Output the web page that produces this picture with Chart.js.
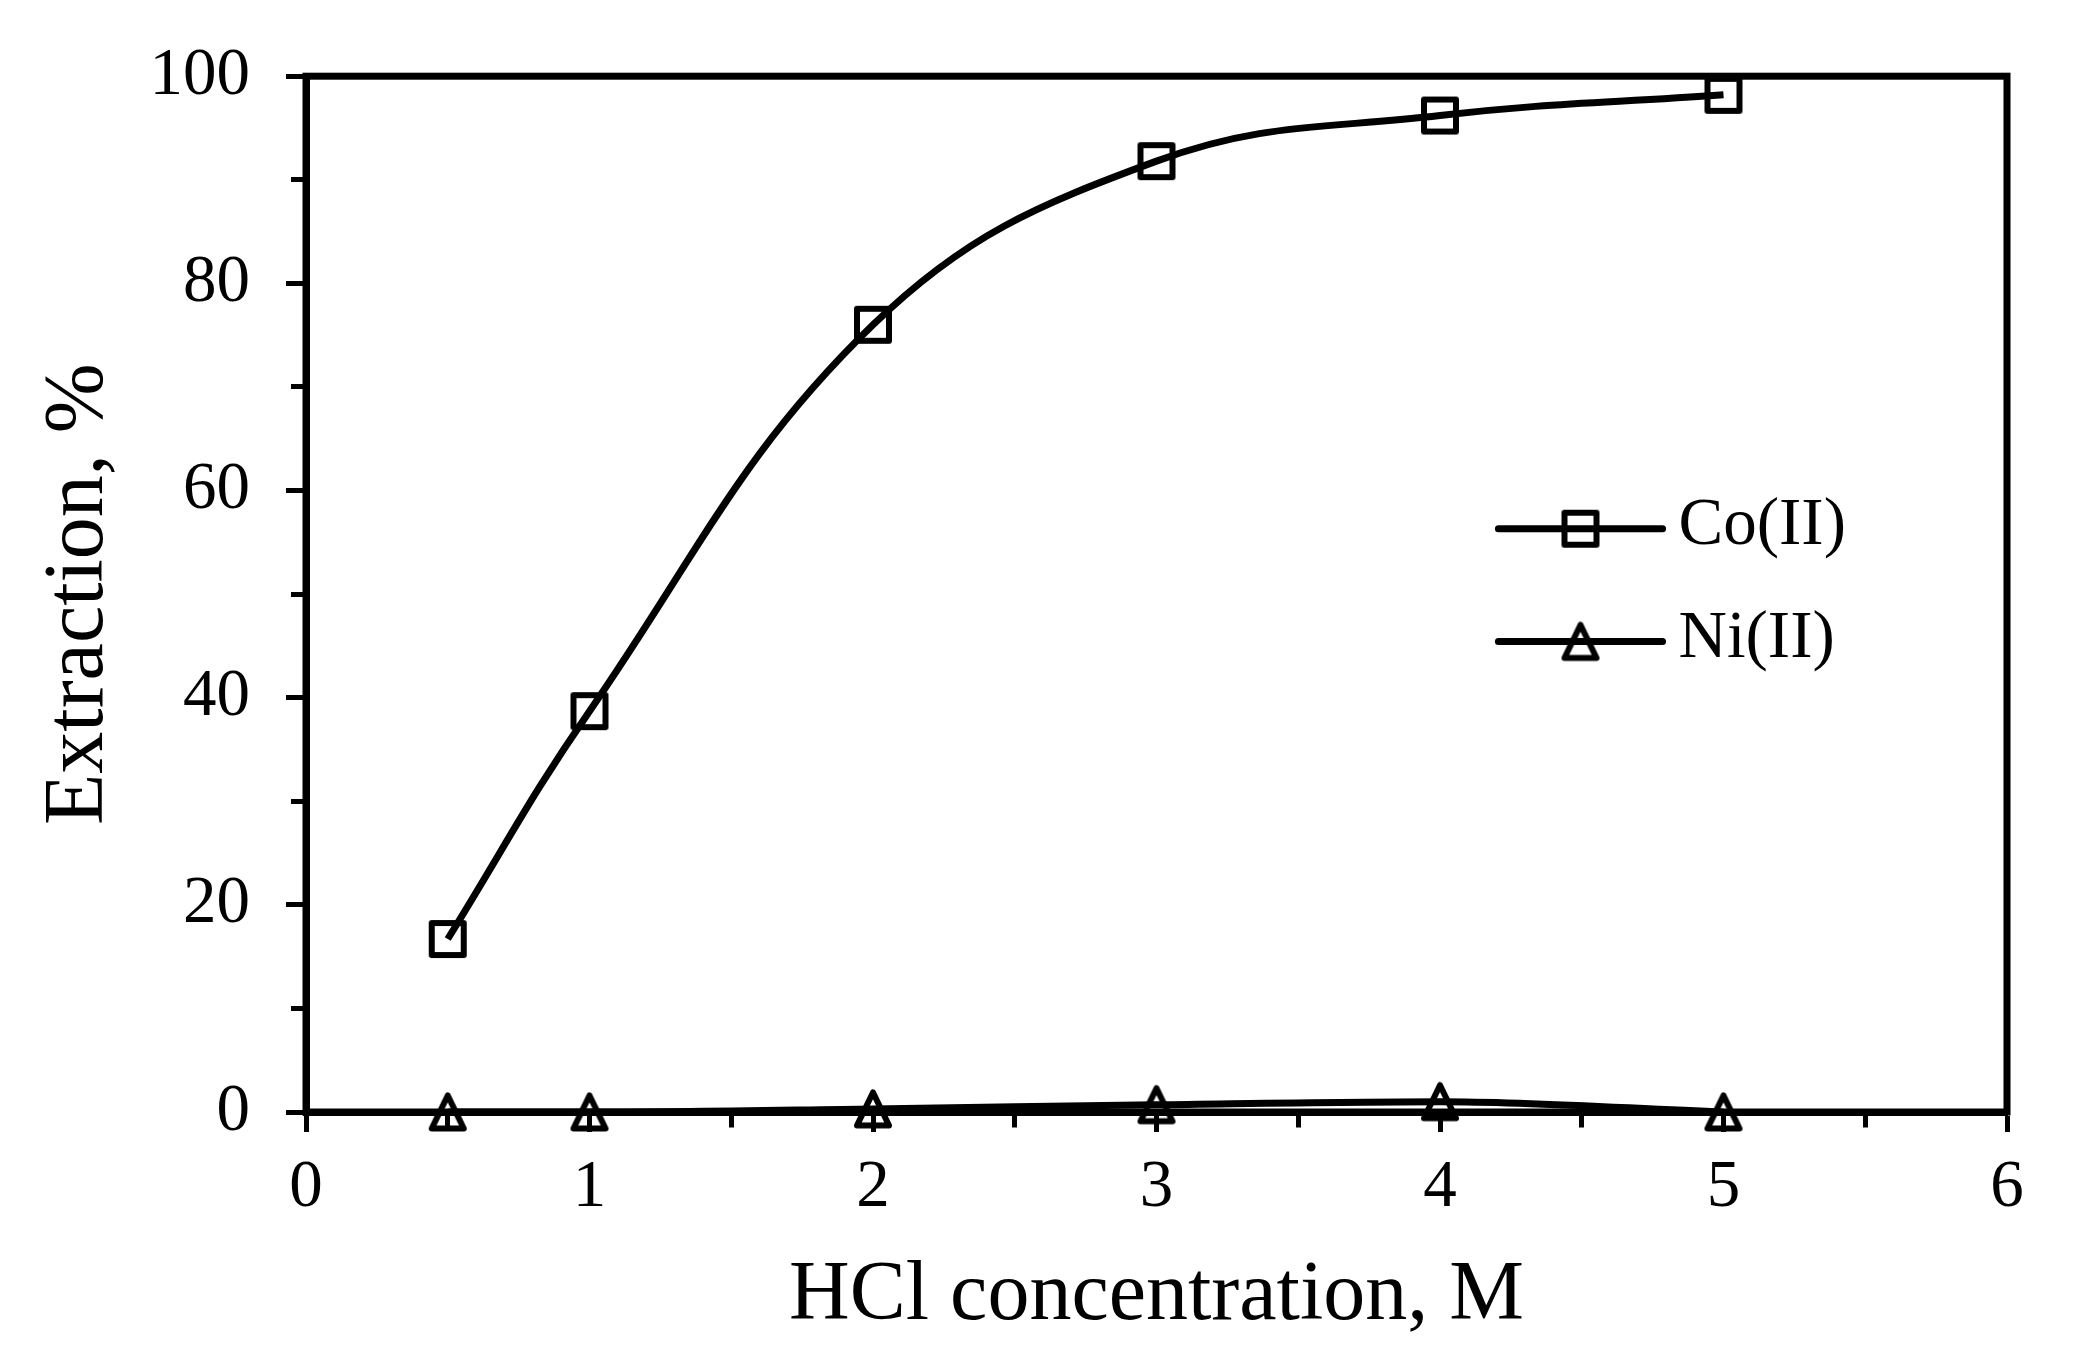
<!DOCTYPE html>
<html><head><meta charset="utf-8">
<script src="https://cdn.jsdelivr.net/npm/chart.js@4"></script>
<style>html,body{margin:0;padding:0;background:#fff}#wrap{width:2088px;height:1351px}</style>
</head><body><div id="wrap"><canvas id="c" width="2088" height="1351"></canvas></div>
<script>
const hclConc = [0.5, 1, 2, 3, 4, 5];
const coExtraction = [16.7, 38.7, 76.0, 91.8, 96.2, 98.2];
const niExtraction = [0, 0, 0.3, 0.7, 1.0, 0];
const xTickLabels = ['0', '1', '2', '3', '4', '5', '6'];
const yTickLabels = ['0', '20', '40', '60', '80', '100'];
const seriesNames = ['Co(II)', 'Ni(II)'];

const FONT = 'Liberation Serif';

function makeMarker(type) {
  const s = 46;
  const c = document.createElement('canvas');
  c.width = s; c.height = s;
  const g = c.getContext('2d');
  g.strokeStyle = '#000'; g.lineWidth = 6; g.lineJoin = 'round';
  if (type === 'square') {
    g.strokeRect(s / 2 - 16, s / 2 - 16, 32, 32);
  } else {
    g.beginPath();
    g.moveTo(s / 2, s / 2 - 16.5);
    g.lineTo(s / 2 + 16, s / 2 + 16.5);
    g.lineTo(s / 2 - 16, s / 2 + 16.5);
    g.closePath();
    g.stroke();
  }
  return c;
}
const squareMarker = makeMarker('square');
const triangleMarker = makeMarker('triangle');

const framePlugin = {
  id: 'frame',
  beforeDatasetsDraw(chart) {
    const a = chart.chartArea, ctx = chart.ctx;
    ctx.save();
    ctx.strokeStyle = '#000'; ctx.lineWidth = 7;
    ctx.strokeRect(a.left, a.top, a.right - a.left, a.bottom - a.top);
    ctx.restore();
  }
};

const legendPlugin = {
  id: 'innerLegend',
  afterDatasetsDraw(chart) {
    const a = chart.chartArea, ctx = chart.ctx;
    const w = a.right - a.left, h = a.bottom - a.top;
    const x0 = a.left + 0.701 * w, x1 = a.left + 0.7975 * w, xm = (x0 + x1) / 2;
    const ys = [a.top + 0.4369 * h, a.top + 0.5457 * h];
    ctx.save();
    chart.data.datasets.forEach((ds, i) => {
      const y = ys[i];
      ctx.strokeStyle = '#000'; ctx.lineWidth = 7; ctx.lineCap = 'round';
      ctx.beginPath(); ctx.moveTo(x0, y); ctx.lineTo(x1, y); ctx.stroke();
      const img = ds.pointStyle;
      ctx.drawImage(img, xm - img.width / 2, y - img.height / 2);
      ctx.fillStyle = '#000';
      ctx.font = '67px "' + FONT + '"';
      ctx.textBaseline = 'middle'; ctx.textAlign = 'left';
      ctx.fillText(ds.label, x1 + 16, y - 2);
    });
    ctx.restore();
  }
};

const isMinorX = v => !Number.isInteger(Math.round(v * 1000) / 1000);
const isMinorY = v => Math.round(v) % 20 !== 0;

new Chart(document.getElementById('c'), {
  type: 'line',
  data: {
    datasets: [
      {
        label: seriesNames[0],
        data: hclConc.map((x, i) => ({ x, y: coExtraction[i] })),
        borderColor: '#000', borderWidth: 7, tension: 0.4,
        pointStyle: squareMarker, pointRadius: 19, clip: false
      },
      {
        label: seriesNames[1],
        data: hclConc.map((x, i) => ({ x, y: niExtraction[i] })),
        borderColor: '#000', borderWidth: 7, tension: 0.4, cubicInterpolationMode: 'monotone',
        pointStyle: triangleMarker, pointRadius: 19, clip: false
      }
    ]
  },
  options: {
    responsive: false,
    animation: false,
    devicePixelRatio: 1,
    events: [],
    layout: { padding: { top: 73, right: 81, left: 0, bottom: 0 } },
    plugins: { legend: { display: false }, tooltip: { enabled: false } },
    scales: {
      x: {
        type: 'linear', min: 0, max: 6, position: 'bottom',
        afterFit(s) { s.height = 239; },
        ticks: {
          stepSize: 0.5, autoSkip: false, maxRotation: 0, padding: 16, color: '#000',
          font: { family: FONT, size: 67 },
          callback(v) { return isMinorX(v) ? '' : xTickLabels[Math.round(v)]; }
        },
        grid: {
          drawOnChartArea: false, drawTicks: true, tickLength: 20, tickWidth: 5, tickColor: '#000',
          tickBorderDash(ctx) { return ctx.tick && isMinorX(ctx.tick.value) ? [11.5, 100] : []; }
        },
        border: { display: true, color: '#000', width: 7 },
        title: {
          display: true, text: 'HCl concentration, M', color: '#000',
          font: { family: FONT, size: 84 }, padding: { top: 0, bottom: 4 }
        }
      },
      y: {
        type: 'linear', min: 0, max: 100, position: 'left',
        afterFit(s) { s.width = 306; },
        ticks: {
          stepSize: 10, autoSkip: false, padding: 36, color: '#000',
          font: { family: FONT, size: 67 },
          callback(v) { return isMinorY(v) ? '' : yTickLabels[Math.round(v) / 20]; }
        },
        grid: {
          drawOnChartArea: false, drawTicks: true, tickLength: 20, tickWidth: 5, tickColor: '#000',
          tickBorderDash(ctx) { return ctx.tick && isMinorY(ctx.tick.value) ? [0, 5, 20, 0] : []; }
        },
        border: { display: true, color: '#000', width: 7 },
        title: {
          display: true, text: 'Extraction, %', color: '#000',
          font: { family: FONT, size: 84 }, padding: { top: 30, bottom: 0 }
        }
      }
    }
  },
  plugins: [framePlugin, legendPlugin]
});
</script>
</body></html>
